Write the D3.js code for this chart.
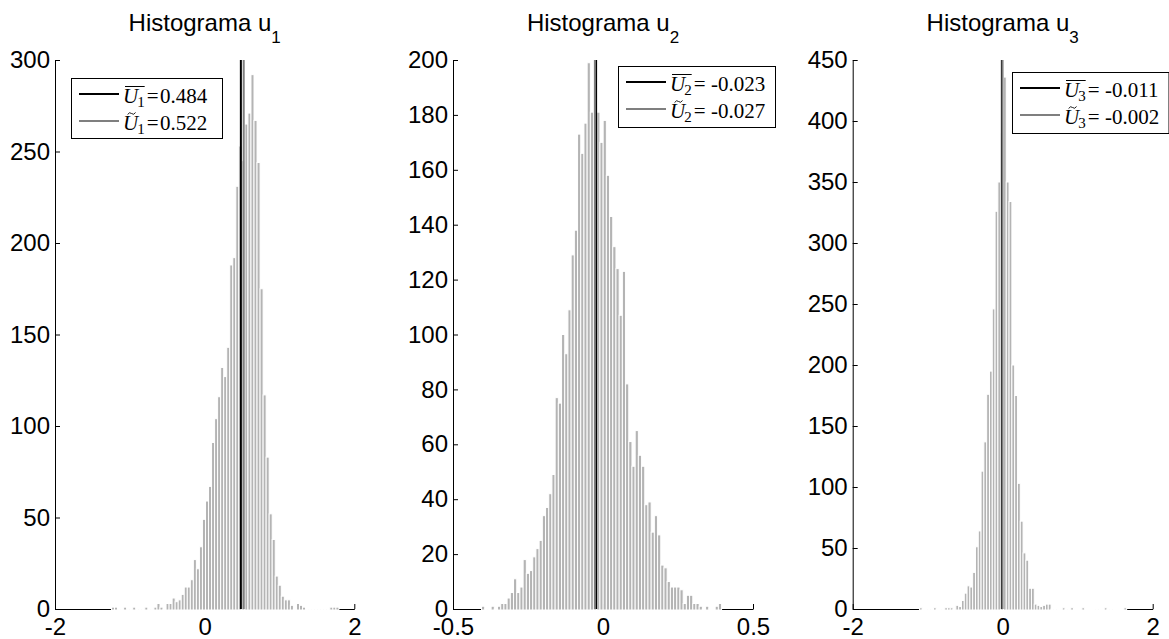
<!DOCTYPE html>
<html>
<head>
<meta charset="utf-8">
<script src="https://cdn.jsdelivr.net/npm/d3@7"></script>
<style>
    body { margin: 0; background: #fff; }
    svg { display: block; font-family: "Liberation Sans", Arial, sans-serif; }
    .legend-text { font-family: "Liberation Serif", "Times New Roman", serif; white-space: pre; }
</style>
</head>
<body>
<svg id="chart" width="1169" height="639"></svg>
<script>
// ============================================================================
// Data (bin counts, first bin centre, width)
// ============================================================================

const titles = ['u', 'u', 'u'];
const subscripts = ['1', '2', '3'];

const u1Start = -1.225;
const u1Width = 0.04053;
const u1Counts = [
    1, 1, 0, 0, 1, 0, 0, 1, 0, 0, 0, 1, 0, 0, 1, 3, 1, 0, 3, 3,
    6, 4, 5, 8, 12, 12, 16, 27, 22, 34, 49, 59, 67, 91, 104, 116, 132, 127, 143, 188,
    192, 231, 253, 245, 265, 271, 292, 267, 244, 175, 117, 83, 52, 38, 18, 13, 7, 5, 5, 2,
    0, 3, 2, 1, 0, 0, 0, 0, 0, 0, 0, 0, 1, 1, 1
];

const u2Start = -0.3996;
const u2Width = 0.01067;
const u2Counts = [
    1, 0, 0, 1, 0, 1, 2, 2, 4, 6, 11, 6, 8, 18, 13, 14, 19, 22, 25, 34,
    37, 42, 49, 77, 75, 100, 93, 109, 129, 138, 173, 166, 177, 199, 181, 190, 181, 170, 178, 158,
    143, 132, 124, 107, 123, 82, 61, 52, 65, 56, 52, 38, 39, 28, 34, 27, 16, 15, 10, 8,
    8, 8, 7, 2, 5, 5, 2, 2, 1, 0, 1, 0, 0, 1, 2
];

const u3Start = -1.091;
const u3Width = 0.03733;
const u3Counts = [
    1, 0, 0, 0, 0, 1, 0, 0, 0, 1, 1, 1, 0, 3, 2, 7, 13, 19, 18, 30,
    51, 64, 113, 137, 176, 195, 246, 326, 350, 390, 436, 350, 334, 200, 175, 103, 72, 46, 40, 17,
    17, 4, 3, 2, 3, 4, 4, 0, 0, 0, 0, 1, 0, 0, 1, 0, 0, 0, 1, 0,
    0, 0, 0, 0, 0, 0, 1, 0, 0, 0, 0, 0, 0, 1
];

const means = [0.484, -0.023, -0.011];
const medians = [0.522, -0.027, -0.002];

const xDomains = [[-2, 2], [-0.5, 0.5], [-2, 2]];
const xTicks = [[-2, 0, 2], [-0.5, 0, 0.5], [-2, 0, 2]];
const yMaxes = [300, 200, 450];
const yTicks = [
    [0, 50, 100, 150, 200, 250, 300],
    [0, 20, 40, 60, 80, 100, 120, 140, 160, 180, 200],
    [0, 50, 100, 150, 200, 250, 300, 350, 400, 450]
];

// ============================================================================
// Layout
// ============================================================================

const PLOT_TOP = 60;
const PLOT_BOTTOM = 609;
const plotX = [[55, 354.3], [453, 753], [852.7, 1152.7]];
const legendBoxes = [
    { x: 71, y: 78, w: 151, h: 60 },
    { x: 618, y: 66, w: 157, h: 61 },
    { x: 1012, y: 72, w: 156.5, h: 61 }
];

const COLORS = { bar: '#b4b4b4', mean: '#000', median: '#7f7f7f', axis: '#000' };

const panels = [
    { start: u1Start, width: u1Width, counts: u1Counts },
    { start: u2Start, width: u2Width, counts: u2Counts },
    { start: u3Start, width: u3Width, counts: u3Counts }
].map((h, i) => ({
    ...h,
    title: titles[i], sub: subscripts[i],
    mean: means[i], median: medians[i],
    xDomain: xDomains[i], xTicks: xTicks[i],
    yMax: yMaxes[i], yTicks: yTicks[i],
    xRange: plotX[i], legend: legendBoxes[i]
}));

const svg = d3.select('#chart');

function legendText(g, x, y, size, txt, italic) {
    const t = g.append('text')
        .attr('class', 'legend-text')
        .attr('x', x).attr('y', y)
        .style('font-size', size + 'px')
        .style('font-style', italic ? 'italic' : 'normal')
        .text(txt);
    return t.node().getComputedTextLength();
}

function drawLegendLabel(g, x, y, sub, value, accent) {
    const uw = legendText(g, x, y, 21, 'U', true);
    const sw = legendText(g, x + uw - 1, y + 4, 15, sub, false);
    let cx = x + uw + sw + 1;
    cx += legendText(g, cx, y, 21, '=', false) + 1.5;
    if (value < 0) cx += 4;
    legendText(g, cx, y, 21, value.toFixed(3), false);

    if (accent === 'bar') {
        g.append('line')
            .attr('x1', x + 2).attr('x2', x + uw + sw - 1)
            .attr('y1', y - 16).attr('y2', y - 16)
            .attr('stroke', '#000').attr('stroke-width', 1);
    } else {
        const mx = x + uw / 2 + 1;
        const ty = y - 16;
        g.append('path')
            .attr('d', `M${mx - 4},${ty + 1} Q${mx - 2},${ty - 2} ${mx},${ty} T${mx + 4},${ty - 1}`)
            .attr('fill', 'none')
            .attr('stroke', '#000').attr('stroke-width', 0.9);
    }
}

function drawPanel(p) {
    const [left, right] = p.xRange;
    const x = d3.scaleLinear().domain(p.xDomain).range([left, right]);
    const y = d3.scaleLinear().domain([0, p.yMax]).range([PLOT_BOTTOM, PLOT_TOP]);

    const g = svg.append('g');

    // Axes (ticks point inward, no box)
    const yAxis = g.append('g')
        .attr('transform', `translate(${left},0)`)
        .call(d3.axisLeft(y).tickValues(p.yTicks).tickSizeInner(-5).tickSizeOuter(0).tickPadding(5));

    const xAxis = g.append('g')
        .attr('transform', `translate(0,${PLOT_BOTTOM})`)
        .call(d3.axisBottom(x).tickValues(p.xTicks).tickSizeInner(-5).tickSizeOuter(0).tickPadding(8.5)
            .tickFormat(d => String(d)));

    [yAxis, xAxis].forEach(a => {
        a.selectAll('text').style('font-size', '24px').attr('fill', '#000')
            .style('font-family', '"Liberation Sans", Arial, sans-serif');
        a.selectAll('line, path').attr('stroke', COLORS.axis);
    });

    // Histogram bars, white edges (they hide the x axis line where bins exist)
    const bins = p.counts.map((c, i) => ({ c, centre: p.start + i * p.width }));
    g.selectAll('.bar')
        .data(bins)
        .join('rect')
        .attr('class', 'bar')
        .attr('x', d => x(d.centre - p.width / 2))
        .attr('width', d => x(d.centre + p.width / 2) - x(d.centre - p.width / 2))
        .attr('y', d => y(d.c))
        .attr('height', d => y(0) - y(d.c) + 1)
        .attr('fill', COLORS.bar)
        .attr('stroke', '#fff')
        .attr('stroke-width', 1);

    // Mean and median lines
    [[p.mean, COLORS.mean], [p.median, COLORS.median]].forEach(([v, col]) => {
        g.append('line')
            .attr('x1', x(v)).attr('x2', x(v))
            .attr('y1', y(p.yMax)).attr('y2', y(0))
            .attr('stroke', col).attr('stroke-width', 2);
    });

    // Title with subscript
    const title = g.append('text')
        .attr('x', (left + right) / 2)
        .attr('y', 30.5)
        .attr('text-anchor', 'middle')
        .style('font-size', '24px')
        .attr('fill', '#000')
        .text('Histograma ' + p.title);
    title.append('tspan')
        .attr('dy', 12)
        .style('font-size', '17px')
        .text(p.sub);

    // Legend
    const L = p.legend;
    const lg = g.append('g');
    lg.append('rect')
        .attr('x', L.x + 0.5).attr('y', L.y + 0.5)
        .attr('width', L.w).attr('height', L.h)
        .attr('fill', '#fff').attr('stroke', '#000').attr('stroke-width', 1);

    const rows = [
        { y: L.y + 16, color: COLORS.mean, value: p.mean, accent: 'bar' },
        { y: L.y + 43, color: COLORS.median, value: p.median, accent: 'tilde' }
    ];
    rows.forEach(r => {
        lg.append('line')
            .attr('x1', L.x + 8).attr('x2', L.x + 48)
            .attr('y1', r.y).attr('y2', r.y)
            .attr('stroke', r.color).attr('stroke-width', 2);
        drawLegendLabel(lg, L.x + 52, r.y + 8.5, p.sub, r.value, r.accent);
    });
}

panels.forEach(drawPanel);
</script>
</body>
</html>
